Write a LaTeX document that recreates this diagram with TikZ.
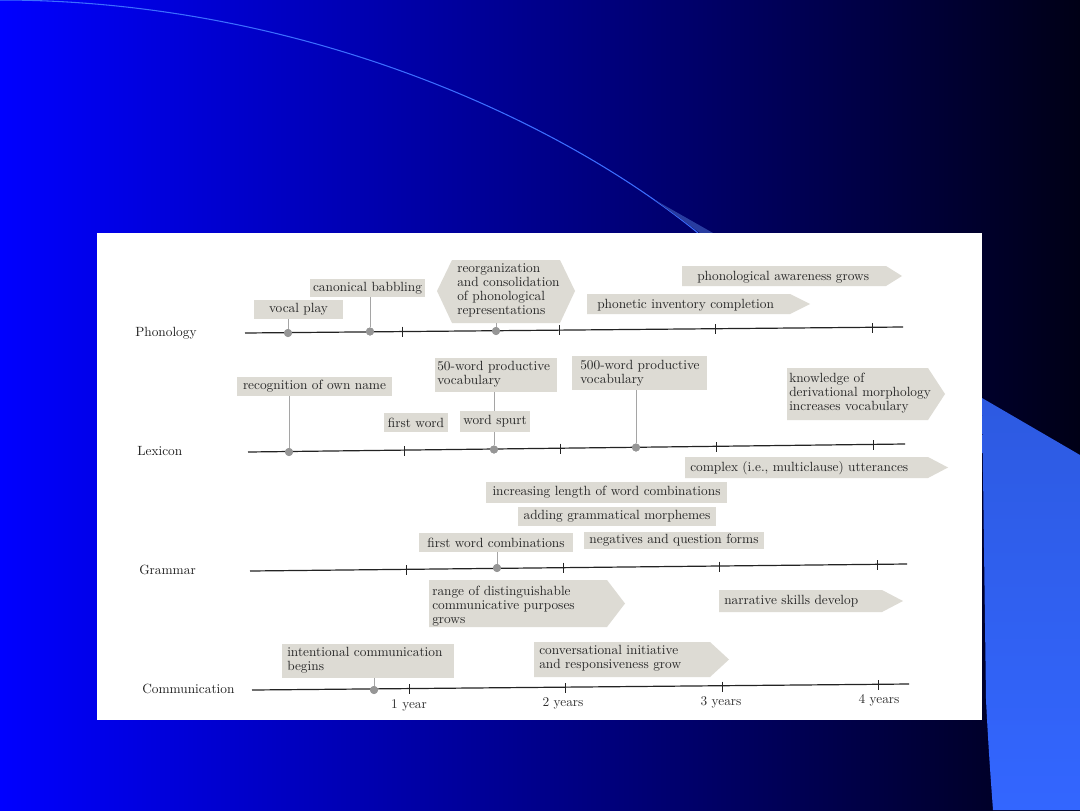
\documentclass[tikz,border=0pt]{standalone}
\usetikzlibrary{fit}
\definecolor{bgL}{RGB}{0,0,255}
\definecolor{bgR}{RGB}{0,0,22}
\definecolor{arcc}{RGB}{60,110,255}
\definecolor{wedgec}{RGB}{40,60,160}
\definecolor{lbT}{RGB}{45,90,225}
\definecolor{lbB}{RGB}{51,102,255}
\definecolor{boxc}{RGB}{221,219,212}
\definecolor{txt}{RGB}{38,38,38}
\definecolor{dotc}{RGB}{150,150,150}
\definecolor{stemc}{RGB}{165,165,165}
\definecolor{axisc}{RGB}{35,35,35}
\tikzset{
  tl/.style={draw=axisc, line width=0.9pt},
  tk/.style={draw=axisc, line width=0.6pt},
  gbox/.style={fill=boxc, inner sep=0pt, draw=none},
  lbl/.style={text=txt, font=\fontsize{10}{10.5}\selectfont, inner sep=0pt},
  ml/.style={lbl, align=left, anchor=base west},
  stem/.style={draw=stemc, line width=0.5pt},
  evt/.style={circle, fill=dotc, inner sep=0pt, minimum size=6pt},
  rowlbl/.style={text=black!88, font=\fontsize{10}{12}\selectfont, anchor=base west, inner sep=0pt},
  yrlbl/.style={text=black!82, font=\fontsize{10}{12}\selectfont, anchor=base, inner sep=0pt}
}
% arrow-shaped label background: x1, xbody, xtip, ytop, ybottom
\newcommand\garrow[5]{\fill[boxc] (#1,#4) -- (#2,#4) -- (#3,{(#4+#5)/2}) -- (#2,#5) -- (#1,#5) -- cycle;}
\begin{document}
\begin{tikzpicture}[x=0.75pt,y=-0.75pt]
\useasboundingbox (0,0) rectangle (1080,810);
% background
\shade[left color=bgL,right color=bgR] (0,0) rectangle (1080,810);
\draw[arcc, line width=0.8pt] (0,0) .. controls (300,0) and (560,120) .. (698,233);
\fill[wedgec] (655,200) -- (700,233) -- (713,233) -- cycle;
\shade[top color=lbT, bottom color=lbB] (982,398) -- (1080,455) -- (1080,810) -- (993,810) .. controls (990,770) and (988,740) .. (986,700) -- cycle;
\fill[white] (97,233) rectangle (982,720);

% row labels
\node[rowlbl] (lPh) at (135,336) {Phonology};
\node[rowlbl] (lLx) at (137,455) {Lexicon};
\node[rowlbl] (lGr) at (139,574) {Grammar};
\node[rowlbl] (lCo) at (142,693) {Communication};

% timelines
\draw[tl] (245,333) -- (903,327);
\draw[tl] (248,452) -- (905,444);
\draw[tl] (250,571) -- (907,564);
\draw[tl] (252,690) -- (909,684);
% ticks
\foreach \x/\y in {402/331.5,559/330,715/329,872/328,
                   404/451,560/448.5,716/447,873/445,
                   406/570,563/567.5,719/566.5,877/565,
                   409/689,565/688,722/686.5,878/685}
  \draw[tk] (\x,\y-5) -- (\x,\y+5);

% year labels
\node[yrlbl] (y1) at (409,708) {1 year};
\node[yrlbl] (y2) at (563,706) {2 years};
\node[yrlbl] (y3) at (721,705) {3 years};
\node[yrlbl] (y4) at (879,703.5) {4 years};

% ---------- Phonology ----------
\node[gbox, fit={(254,300)(343,319)}] (bVocal) {};
\node[lbl] (tVocal) at (bVocal) {vocal play};
\node[gbox, fit={(310,279)(425,297)}] (bCanon) {};
\node[lbl] (tCanon) at (bCanon) {canonical babbling};
\fill[boxc] (437,291) -- (452,260) -- (560,260) -- (575,291) -- (560,323) -- (452,323) -- cycle;
\coordinate (bReorg) at (496,323);
\node[ml] (tReorg) at (457,314) {reorganization\\and consolidation\\of phonological\\representations};
\garrow{587}{790}{810}{294}{314}
\node[lbl, anchor=base west] (tPhonetic) at (597,308) {phonetic inventory completion};
\garrow{682}{886}{902}{266}{286}
\node[lbl, anchor=base west] (tAware) at (697,280) {phonological awareness grows};

% ---------- Lexicon ----------
\node[gbox, fit={(237,377)(392,396)}] (bRecog) {};
\node[lbl] (tRecog) at (bRecog) {recognition of own name};
\node[gbox, fit={(384,413)(448,432)}] (bFirst) {};
\node[lbl] (tFirst) at (bFirst) {first word};
\node[gbox, fit={(435,358)(557,392)}] (bFifty) {};
\node[ml] (tFifty) at (437,384) {50-word productive\\vocabulary};
\node[gbox, fit={(572,356)(707,390)}] (bFiveH) {};
\node[ml] (tFiveH) at (580,383) {500-word productive\\vocabulary};
\garrow{787}{928}{945}{368}{420}
\node[ml] (tKnow) at (789,410) {knowledge of\\derivational morphology\\increases vocabulary};

% ---------- Grammar ----------
\garrow{685}{928}{948}{457}{478}
\node[lbl, anchor=base west] (tComplex) at (690,471) {complex (i.e., multiclause) utterances};
\node[gbox, fit={(486,482)(727,503)}] (bIncr) {};
\node[lbl] (tIncr) at (bIncr) {increasing length of word combinations};
\node[gbox, fit={(518,507)(716,526)}] (bAdd) {};
\node[lbl] (tAdd) at (bAdd) {adding grammatical morphemes};
\node[gbox, fit={(419,533)(573,552)}] (bFWC) {};
\node[lbl] (tFWC) at (bFWC) {first word combinations};
\node[gbox, fit={(584,532)(764,549)}] (bNeg) {};
\node[lbl] (tNeg) at (bNeg) {negatives and question forms};
\garrow{429}{607}{625}{580}{627}
\node[ml] (tRange) at (432,623) {range of distinguishable\\communicative purposes\\grows};
\garrow{719}{882}{903}{590}{612}
\node[lbl, anchor=base west] (tNarr) at (724,604) {narrative skills develop};

% ---------- Communication ----------
\node[gbox, fit={(282,644)(454,678)}] (bIntent) {};
\node[ml] (tIntent) at (287,670) {intentional communication\\begins};
\garrow{534}{710}{729}{642}{677}
\node[ml] (tConv) at (539,668) {conversational initiative\\and responsiveness grow};

% event dots
\node[evt] (dVocal) at (288,333) {};
\node[evt] (dCanon) at (370,331.5) {};
\node[evt] (dReorg) at (496,331) {};
\node[evt] (dRecog) at (289,452) {};
\node[evt] (dFifty) at (494,449.5) {};
\node[evt] (dFiveH) at (636,447.5) {};
\node[evt] (dFWC) at (497,568) {};
\node[evt] (dIntent) at (374,690) {};

% stems
\draw[stem] (dVocal) -- (dVocal |- bVocal.south);
\draw[stem] (dCanon) -- (dCanon |- bCanon.south);
\draw[stem] (dReorg) -- (bReorg);
\draw[stem] (dRecog) -- (dRecog |- bRecog.south);
\draw[stem] (dFifty) -- (dFifty |- bFifty.south);
\draw[stem] (dFiveH) -- (dFiveH |- bFiveH.south);
\draw[stem] (dFWC) -- (dFWC |- bFWC.south);
\draw[stem] (dIntent) -- (dIntent |- bIntent.south);

% word spurt box lies over the 50-word stem
\node[gbox, fit={(460,411)(530,432)}] (bSpurt) {};
\node[lbl] (tSpurt) at (bSpurt) {word spurt};

% redraw dots on top of stems
\foreach \d in {dVocal,dCanon,dReorg,dRecog,dFifty,dFiveH,dFWC,dIntent}
  \fill[dotc] (\d) circle (4);
\end{tikzpicture}
\end{document}
